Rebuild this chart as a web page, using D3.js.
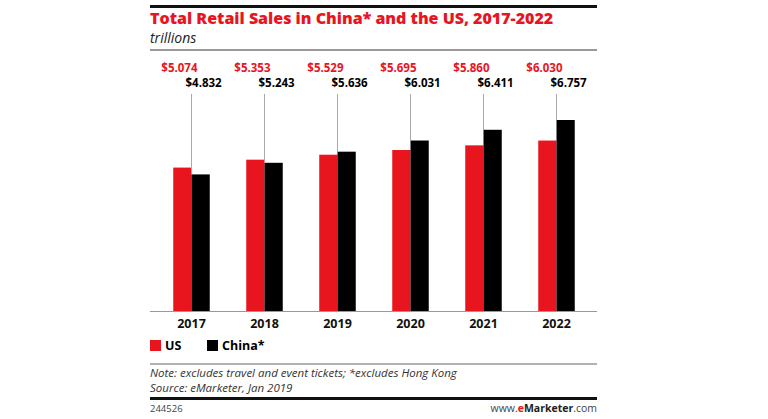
<!DOCTYPE html><html><head><meta charset="utf-8">
<script src="https://cdn.jsdelivr.net/npm/d3@7"></script>
<style>body{margin:0;background:#fff}text{font-family:"Open Sans",Arial,sans-serif}</style></head><body>
<svg id="c" width="768" height="419"></svg>
<script>
const years=["2017","2018","2019","2020","2021","2022"];
const us=[5.074,5.353,5.529,5.695,5.860,6.030];
const china=[4.832,5.243,5.636,6.031,6.411,6.757];
const svg=d3.select("#c");
const L=150,R=597,base=311;
const x=d3.scaleBand().domain(years).range([155,593]).paddingInner(0.5).paddingOuter(0.25);
const y=d3.scaleLinear().domain([0,6.757]).range([base,120]);
const red="#e8151f";
svg.append("rect").attr("x",L).attr("y",5).attr("width",R-L).attr("height",3).attr("fill","#111");
svg.append("text").attr("x",L).attr("y",24).attr("font-size",16).attr("font-weight",800).attr("fill",red).text("Total Retail Sales in China* and the US, 2017-2022");
svg.append("text").attr("x",L).attr("y",43).attr("font-size",14).attr("font-style","italic").attr("fill","#222").text("trillions");
svg.append("line").attr("x1",L).attr("x2",R).attr("y1",50).attr("y2",50).attr("stroke","#777").attr("stroke-width",1.5);
const bw=x.bandwidth()/2;
years.forEach((yr,i)=>{
  const cx=x(yr)+x.bandwidth()/2;
  svg.append("line").attr("x1",cx).attr("x2",cx).attr("y1",94).attr("y2",y(Math.max(us[i],china[i]))).attr("stroke","#aaa").attr("stroke-width",1);
  svg.append("rect").attr("x",x(yr)).attr("y",y(us[i])).attr("width",bw).attr("height",base-y(us[i])).attr("fill",red);
  svg.append("rect").attr("x",cx).attr("y",y(china[i])).attr("width",bw).attr("height",base-y(china[i])).attr("fill","#000");
  svg.append("text").attr("x",cx+6).attr("y",72).attr("text-anchor","end").attr("font-size",11.5).attr("font-weight",700).attr("fill",red).text("$"+us[i].toFixed(3));
  svg.append("text").attr("x",cx-6).attr("y",87).attr("text-anchor","start").attr("font-size",11.5).attr("font-weight",700).attr("fill","#000").text("$"+china[i].toFixed(3));
  svg.append("text").attr("x",cx).attr("y",328).attr("text-anchor","middle").attr("font-size",12.5).attr("font-weight",700).attr("fill","#111").text(yr);
});
svg.append("line").attr("x1",L).attr("x2",R).attr("y1",base+0.5).attr("y2",base+0.5).attr("stroke","#999");
svg.append("rect").attr("x",L).attr("y",340).attr("width",11).attr("height",11).attr("fill",red);
svg.append("text").attr("x",165).attr("y",350).attr("font-size",12.5).attr("font-weight",700).text("US");
svg.append("rect").attr("x",207).attr("y",340).attr("width",11).attr("height",11).attr("fill","#000");
svg.append("text").attr("x",222).attr("y",350).attr("font-size",12.5).attr("font-weight",700).text("China*");
svg.append("line").attr("x1",L).attr("x2",R).attr("y1",364).attr("y2",364).attr("stroke","#999").attr("stroke-width",1.5);
svg.append("text").attr("x",L).attr("y",377).attr("font-size",11.5).attr("font-style","italic").attr("fill","#333").text("Note: excludes travel and event tickets; *excludes Hong Kong");
svg.append("text").attr("x",L).attr("y",392).attr("font-size",11.5).attr("font-style","italic").attr("fill","#333").text("Source: eMarketer, Jan 2019");
svg.append("rect").attr("x",L).attr("y",397).attr("width",R-L).attr("height",3).attr("fill","#111");
svg.append("text").attr("x",L).attr("y",412).attr("font-size",9.5).attr("fill","#444").text("244526");
const ft=svg.append("text").attr("x",R).attr("y",412).attr("text-anchor","end").attr("font-size",10.5).attr("fill","#444");
ft.append("tspan").text("www.");ft.append("tspan").attr("fill",red).attr("font-weight",700).text("e");
ft.append("tspan").attr("font-weight",700).attr("fill","#222").text("Marketer");ft.append("tspan").text(".com");
</script></body></html>
